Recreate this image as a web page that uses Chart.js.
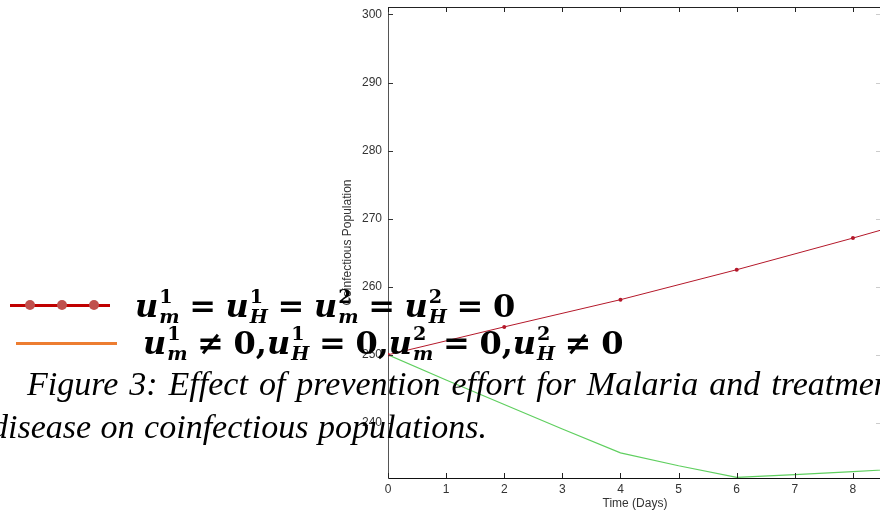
<!DOCTYPE html>
<html>
<head>
<meta charset="utf-8">
<script src="https://cdn.jsdelivr.net/npm/chart.js@4/dist/chart.umd.min.js"></script>
<style>
	html, body { margin: 0; padding: 0; background: #fff; overflow: hidden; width: 880px; height: 516px; }
	#chartBox { position: absolute; left: 0; top: 0; width: 900px; height: 516px; }
	.key { position: absolute; }
	.dot { position: absolute; width: 10px; height: 10px; border-radius: 50%; background: #c0504d; }
	.eq { position: absolute; font-family: "DejaVu Serif", serif; font-size: 32px; font-weight: bold; color: #000; white-space: nowrap; line-height: 1; }
	.eq i { font-style: italic; }
	.eq .s { display: inline-block; vertical-align: -0.32em; font-size: 0.6em; line-height: 20px; margin-left: 1px; }
	.eq .s span, .eq .s i { display: block; }
	.eq .op { margin: 0 0.3em; }
	.cap { position: absolute; font-family: "Liberation Serif", serif; font-style: italic; font-size: 34px; color: #000; white-space: nowrap; line-height: 1; }
</style>
</head>
<body>
<div id="chartBox"><canvas id="coinfChart" width="900" height="516"></canvas></div>

<div class="key" style="left:10px;top:304px;width:100px;height:3px;background:#c00000"></div>
<div class="dot" style="left:25px;top:300px"></div>
<div class="dot" style="left:57px;top:300px"></div>
<div class="dot" style="left:89px;top:300px"></div>
<div class="key" style="left:16px;top:342px;width:101px;height:3px;background:#ed7d31"></div>

<div class="eq" id="eq1" style="left:135px;top:287px"><i>u</i><span class="s"><span>1</span><i>m</i></span><span class="op">=</span><i>u</i><span class="s"><span>1</span><i>H</i></span><span class="op">=</span><i>u</i><span class="s"><span>2</span><i>m</i></span><span class="op">=</span><i>u</i><span class="s"><span>2</span><i>H</i></span><span class="op">=</span>0</div>
<div class="eq" id="eq2" style="left:143px;top:324px"><i>u</i><span class="s"><span>1</span><i>m</i></span><span class="op">≠</span>0,<i>u</i><span class="s"><span>1</span><i>H</i></span><span class="op">=</span>0,<i>u</i><span class="s"><span>2</span><i>m</i></span><span class="op">=</span>0,<i>u</i><span class="s"><span>2</span><i>H</i></span><span class="op">≠</span>0</div>

<div class="cap" style="left:27px;top:367px;word-spacing:2.5px">Figure 3: Effect of prevention effort for Malaria and treatment of</div>
<div class="cap" style="left:-9px;top:410px;word-spacing:1px">disease on coinfectious populations.</div>

<script>
// Values
const greenDays   = [0, 1, 2, 3, 4, 5, 6, 7, 8, 9];
const greenValues = [250, 246.3, 242.7, 239.1, 235.6, 233.7, 232.0, 232.4, 232.85, 233.3];
const redDays     = [0, 2, 4, 6, 8, 10];
const redValues   = [250, 254.1, 258.1, 262.5, 267.15, 272];
const xTickLabels = ['0', '1', '2', '3', '4', '5', '6', '7', '8'];

Chart.defaults.font.family = '"Liberation Sans", Arial, sans-serif';
Chart.defaults.color = '#333';

function toPoints(xs, ys) {
	return xs.map((x, i) => ({ x: x, y: ys[i] }));
}

// MATLAB style box: ticks pointing inward on all four sides
const boxPlugin = {
	id: 'matlabBox',
	afterDraw(chart) {
		let ctx = chart.ctx;
		let a = chart.chartArea;
		let xs = chart.scales.x;
		let ys = chart.scales.y;
		ctx.save();
		ctx.strokeStyle = '#222';
		ctx.lineWidth = 1;
		ctx.beginPath();
		ctx.moveTo(a.left, a.top + 0.5);
		ctx.lineTo(a.right, a.top + 0.5);
		ctx.moveTo(a.right - 0.5, a.top);
		ctx.lineTo(a.right - 0.5, a.bottom);
		xs.ticks.forEach(t => {
			let px = Math.round(xs.getPixelForValue(t.value)) + 0.5;
			ctx.moveTo(px, a.bottom);
			ctx.lineTo(px, a.bottom - 5);
			ctx.moveTo(px, a.top);
			ctx.lineTo(px, a.top + 5);
		});
		ctx.stroke();
		// right side ticks are faint in the picture
		ctx.strokeStyle = '#ccc';
		ctx.beginPath();
		ys.ticks.forEach(t => {
			let py = Math.round(ys.getPixelForValue(t.value)) + 0.5;
			ctx.moveTo(a.right, py);
			ctx.lineTo(a.right - 6, py);
		});
		ctx.stroke();
		ctx.strokeStyle = '#333';
		ctx.beginPath();
		ys.ticks.forEach(t => {
			let py = Math.round(ys.getPixelForValue(t.value)) + 0.5;
			ctx.moveTo(a.left, py);
			ctx.lineTo(a.left + 5, py);
		});
		ctx.stroke();
		ctx.restore();
	}
};

let ctx = document.getElementById('coinfChart');
let coinfChart = new Chart(ctx, {
	type: 'line',
	data: {
		datasets: [
			{
				label: 'No control',
				data: toPoints(redDays, redValues),
				borderColor: '#b4182a',
				backgroundColor: '#b4182a',
				borderWidth: 1,
				pointRadius: 2,
				pointBorderWidth: 0,
				fill: false,
			},
			{
				label: 'Prevention and treatment',
				data: toPoints(greenDays, greenValues),
				borderColor: '#5fcf5f',
				borderWidth: 1.2,
				pointRadius: 0,
				fill: false,
			},
		],
	},
	options: {
		responsive: false,
		animation: false,
		layout: { padding: { left: 330, top: 7, right: 18, bottom: 0 } },
		plugins: {
			legend: { display: false },
			tooltip: { enabled: false },
		},
		scales: {
			x: {
				type: 'linear',
				min: 0,
				max: 8.5,
				grid: { display: false, drawTicks: false },
				border: { display: true, color: '#111', width: 1 },
				ticks: {
					stepSize: 1,
					includeBounds: false,
					padding: 4,
					font: { size: 12 },
					callback: v => xTickLabels[v],
				},
				title: { display: true, text: 'Time (Days)', font: { size: 12 }, padding: { top: 0, bottom: 5 } },
				afterFit: s => { s.height = 38; s.paddingLeft = 0; s.paddingRight = 0; },
			},
			y: {
				min: 231.9,
				max: 301.1,
				grid: { display: false, drawTicks: false },
				border: { display: true, color: '#555', width: 1 },
				ticks: { stepSize: 10, includeBounds: false, padding: 6, font: { size: 12 } },
				title: { display: true, text: 'Coinfectious Population', font: { size: 12 }, padding: { top: 10, bottom: 0 } },
				afterFit: s => { s.width = 58; s.paddingTop = 0; s.paddingBottom = 0; },
			},
		},
	},
	plugins: [boxPlugin],
});
</script>
</body>
</html>
